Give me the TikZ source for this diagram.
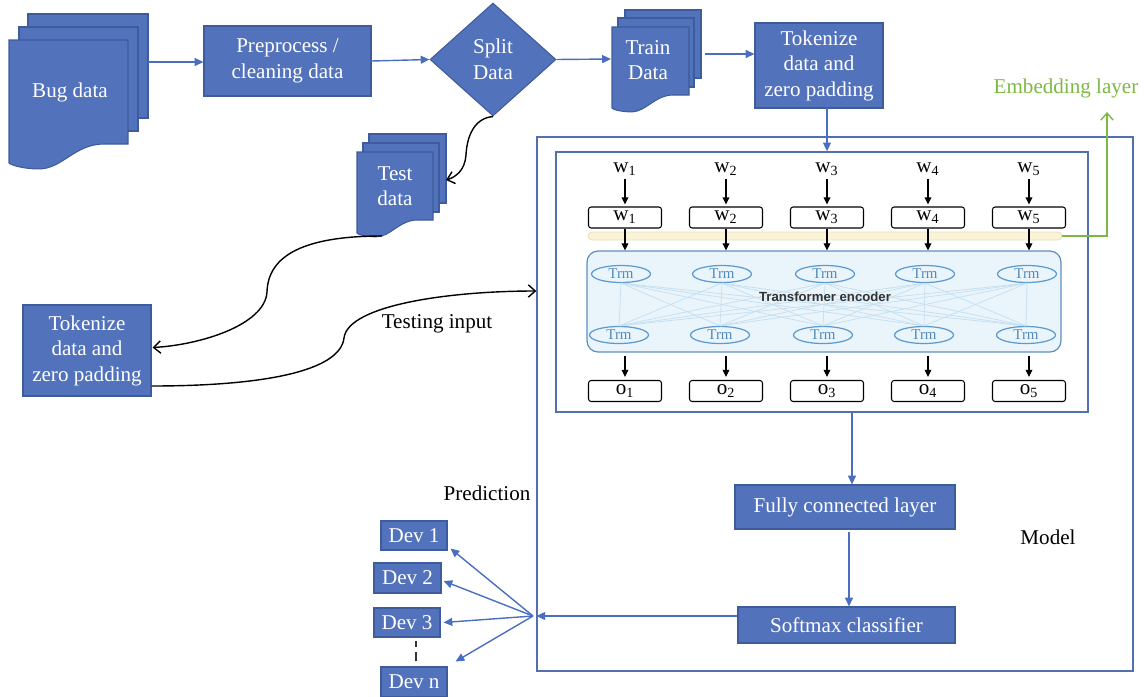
\documentclass[tikz,border=0pt]{standalone}
\usepackage{fontspec}
\setmainfont{Liberation Serif}
\setsansfont{Liberation Sans}
\usetikzlibrary{arrows.meta,shapes.geometric,calc}
\definecolor{boxblue}{HTML}{5272BC}
\definecolor{boxedge}{HTML}{3E5C9C}
\definecolor{lineblue}{HTML}{4A6FC0}
\definecolor{frameblue}{HTML}{5370AE}
\definecolor{embgreen}{HTML}{7DB843}
\definecolor{trmblue}{HTML}{5B9BD0}
\definecolor{encfill}{HTML}{EAF4FB}
\definecolor{encedge}{HTML}{5E8FBE}
\definecolor{barfill}{HTML}{FBF3D5}
\definecolor{baredge}{HTML}{E9E0BC}
\definecolor{meshblue}{HTML}{C4DFF0}
\newcommand\docsheet[5]{%
  \pgfmathsetmacro\dsw{#3-#1}%
  \pgfmathsetmacro\dsa{#1+0.8*\dsw}%
  \pgfmathsetmacro\dsb{#1+0.55*\dsw}%
  \pgfmathsetmacro\dsc{#1+0.45*\dsw}%
  \pgfmathsetmacro\dsd{#1+0.25*\dsw}%
  \pgfmathsetmacro\dse{#1+0.1*\dsw}%
  \pgfmathsetmacro\dsy{#4+0.05*\dsw}%
  \pgfmathsetmacro\dsz{#4+1}%
  \path[sheet] (#1,#2) -- (#3,#2) -- (#3,#5) -- (\dsa,#5) .. controls (\dsb,#5) and (\dsc,\dsy) .. (\dsd,\dsy) .. controls (\dse,\dsy) and (#1,\dsz) .. (#1,#4) -- cycle;}
\tikzset{
  mainf/.style={font=\fontsize{12}{14.5}\selectfont},
  sheet/.style={fill=boxblue, draw=boxedge, line width=0.6pt},
  bluebox/.style={mainf, fill=boxblue, draw=boxedge, line width=0.6pt, text=white, align=center, inner sep=0pt},
  doclabel/.style={mainf, text=white, align=center, inner sep=0pt},
  plainlabel/.style={mainf, text=black, inner sep=0pt},
  frame/.style={draw=frameblue, line width=0.8pt, inner sep=0pt},
  barrow/.style={draw=lineblue, line width=0.8pt, -{Triangle[length=5pt,width=4.5pt]}},
  karrow/.style={draw=black, line width=0.7pt, -{Triangle[length=4pt,width=3.8pt]}},
  curvearrow/.style={draw=black, line width=0.8pt, -{Straight Barb[length=4pt,width=7pt]}},
  tokbox/.style={mainf, draw=black, fill=white, line width=0.6pt, rounded corners=1.5pt, minimum width=1.46cm, minimum height=0.42cm, inner sep=0pt},
  wlab/.style={mainf, inner sep=0pt},
  trm/.style={ellipse, draw=trmblue, line width=0.7pt, minimum width=1.18cm, minimum height=0.34cm, inner sep=0pt, text=trmblue!90!black, font=\fontsize{8.5}{9}\selectfont},
  mesh/.style={draw=meshblue, line width=0.4pt},
}
\begin{document}
\begin{tikzpicture}[x=0.02cm,y=-0.02cm]
\useasboundingbox (0,0) rectangle (1144,697);

% model frames
\node[frame, minimum width=11.92cm, minimum height=10.68cm] (model) at (835,404) {};
\node[frame, minimum width=10.64cm, minimum height=5.2cm] (inner) at (822,282) {};

% Bug data stack
\path[sheet] (28,14) rectangle (148,118);
\path[sheet] (19,27) rectangle (138,131);
\docsheet{9}{40}{128}{163}{144}
\node[doclabel] (bug) at (70,92) {Bug data};
\coordinate (bugR) at (148,62);

% Preprocess
\node[bluebox, minimum width=3.34cm, minimum height=1.4cm] (prep) at (287.5,61) {Preprocess /\\cleaning data};

% Split
\node[diamond, fill=boxblue, draw=boxedge, line width=0.6pt, minimum width=2.52cm, minimum height=2.26cm, inner sep=0pt, mainf, text=white, align=center] (split) at (493,59.5) {Split\\Data};

% Train data stack
\path[sheet] (625,10) rectangle (701,78);
\path[sheet] (618,18) rectangle (694,87);
\docsheet{612}{27}{689}{108}{95}
\node[doclabel] (train) at (648,60) {Train\\Data};
\coordinate (trainL) at (611,59);
\coordinate (trainR) at (705,54);

% Tokenize (top)
\node[bluebox, minimum width=2.56cm, minimum height=1.7cm] (tok) at (819,65.5) {Tokenize\\data and\\zero padding};
\coordinate (tokS) at (827,108);

% Test data stack
\path[sheet] (369,134) rectangle (446,203);
\path[sheet] (363,143) rectangle (439,212);
\docsheet{357}{152}{433}{233}{220}
\node[doclabel] (test) at (395,186) {Test\\data};
\coordinate (testR) at (446,180);
\coordinate (testB) at (382,236);

% Tokenize (left)
\node[bluebox, minimum width=2.56cm, minimum height=1.82cm] (tok2) at (87,350.5) {Tokenize\\data and\\zero padding};

% top row connectors
\draw[barrow] (bugR) -- (bugR -| prep.west);
\draw[barrow] (prep.east) -- (split.west);
\draw[barrow] (split.east) -- (trainL);
\draw[barrow] (trainR) -- (trainR -| tok.west);
\draw[barrow] (tokS) -- (tokS |- inner.north);

% curves
\draw[curvearrow] (split.south) .. controls (475,118) and (467,135) .. (466,155) .. controls (465,170) and (456,177) .. (testR);
\draw[curvearrow] (testB) .. controls (305,236) and (268,255) .. (267,292) .. controls (265,325) and (200,345) .. ($(tok2.east)+(1,-3)$);
\coordinate (modelIn) at (model.west |- 0,291);
\draw[curvearrow] ($(tok2.east)+(0,35.5)$) .. controls (260,386) and (340,372) .. (344,338) .. controls (348,305) and (450,291) .. (modelIn);
\node[plainlabel] (testing) at (437,324) {Testing input};

% embedding bar and transformer
\node[fill=barfill, draw=baredge, line width=0.5pt, rounded corners=0.08cm, minimum width=9.48cm, minimum height=0.16cm, inner sep=0pt] (bar) at (825,236) {};
\node[fill=encfill, draw=encedge, line width=0.7pt, rounded corners=0.22cm, minimum width=9.48cm, minimum height=2.02cm, inner sep=0pt] (enc) at (824,301.5) {};
\foreach \i/\x/\y in {1/621/619,2/722/720,3/825/823,4/925/924,5/1027/1026}{
  \node[trm] (t\i) at (\x,274) {Trm};
  \node[trm] (b\i) at (\y,335) {Trm};
}
\foreach \i in {1,...,5}{
  \foreach \j in {1,...,5}{
    \draw[mesh] (t\i.south) -- (b\j.north);
  }
}
\node[font=\sffamily\bfseries\fontsize{7.5}{9}\selectfont, text=black!80, inner sep=0pt] (encl) at (825,297) {Transformer encoder};

\foreach \i/\x in {1/625,2/726,3/827,4/928,5/1029}{
  \node[wlab] (wl\i) at (\x,169) {w\textsubscript{\i}};
  \node[tokbox] (wb\i) at (\x,217.5) {w\textsubscript{\i}};
  \node[tokbox] (ob\i) at (\x,391) {o\textsubscript{\i}};
  \draw[karrow] ($(wl\i.south)+(0,3)$) -- ($(wb\i.north)+(0,-2)$);
  \draw[karrow] (wb\i.south) -- (wb\i.south |- enc.north);
  \draw[karrow] ($(wb\i.south |- enc.south)+(0,3)$) -- ($(ob\i.north)+(0,-3)$);
}

% embedding label
\coordinate (embtip) at (1107,112);
\draw[draw=embgreen, line width=0.8pt, -{Straight Barb[length=4pt,width=7pt]}] (bar.east) -| (embtip);
\node[mainf, text=embgreen, inner sep=0pt] (emb) at (1066,88) {Embedding layer};

% classifier
\node[bluebox, minimum width=4.4cm, minimum height=0.88cm] (fc) at (845,507) {Fully connected layer};
\node[bluebox, minimum width=4.34cm, minimum height=0.72cm] (soft) at (846.5,625) {Softmax classifier};
\coordinate (innerB) at (852,413);
\draw[barrow] (innerB) -- (innerB |- fc.north);
\coordinate (fcB) at (849,532);
\draw[barrow] (fcB) -- (fcB |- soft.north);
\node[plainlabel] (modl) at (1048,537) {Model};
\node[plainlabel] (pred) at (487,493) {Prediction};

% devs
\node[bluebox, minimum width=1.32cm, minimum height=0.58cm] (dev1) at (414,535.5) {Dev 1};
\node[bluebox, minimum width=1.34cm, minimum height=0.6cm] (dev2) at (407.5,578) {Dev 2};
\node[bluebox, minimum width=1.32cm, minimum height=0.58cm] (dev3) at (407,622.5) {Dev 3};
\node[bluebox, minimum width=1.32cm, minimum height=0.6cm] (devn) at (414,682) {Dev n};
\draw[line width=0.7pt, black!80, dash pattern=on 5.5pt off 2.5pt] ($(devn.north)+(2,-5)$) -- ($(devn.north)+(2,-25)$);

\coordinate (softW) at (soft.west |- 0,616);
\coordinate (fan) at (533,616);
\draw[barrow] (softW) -- (softW -| model.west);
\draw[barrow] (fan) -- ($(dev1.south east)+(3,-2)$);
\draw[barrow] (fan) -- ($(dev2.east)+(2,3)$);
\draw[barrow] (fan) -- ($(dev3.east)+(3,0)$);
\draw[barrow] (fan) -- ($(devn.north east)+(8,-5)$);
\end{tikzpicture}
\end{document}
